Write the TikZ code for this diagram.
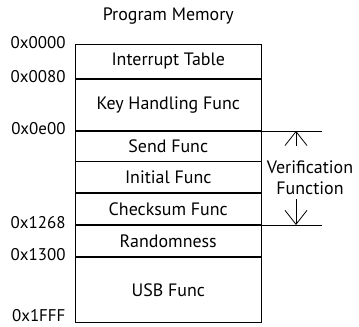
\documentclass[tikz,border=0pt]{standalone}
\usepackage{fontspec}
\setmainfont{PT Sans}
\usetikzlibrary{positioning,arrows.meta}
\tikzset{%
    block/.style={draw,thick,minimum width=186.3bp,inner sep=0pt,font=\fontsize{18}{21}\selectfont},
    lbl/.style={inner sep=0pt,font=\fontsize{18}{21}\selectfont},
    addr/.style={inner sep=0pt,anchor=base east,font=\fontsize{17}{20}\selectfont},
    vtip/.style={-{Straight Barb[length=14bp,width=22bp]},thick}
}
\begin{document}
\begin{tikzpicture}[x=1bp,y=-1bp,node distance=0pt]
\useasboundingbox (0,0) rectangle (359,327);

\node[block,minimum height=33.4bp,anchor=north west] (int) at (74.7,44.3) {Interrupt Table};
\node[block,minimum height=51.6bp,below=of int] (key) {Key Handling Func};
\node[block,minimum height=29.7bp,below=of key] (send) {Send Func};
\node[block,minimum height=31bp,below=of send] (init) {Initial Func};
\node[block,minimum height=31bp,below=of init] (check) {Checksum Func};
\node[block,minimum height=31bp,below=of check] (rand) {Randomness};
\node[block,minimum height=65.3bp,below=of rand] (usb) {USB Func};

\node[lbl,above=20bp of int] (title) {Program Memory};

\node[addr] (a0) at ([xshift=-9bp,yshift=-4bp]int.north west) {0x0000};
\node[addr] (a1) at ([xshift=-9bp,yshift=-4bp]key.north west) {0x0080};
\node[addr] (a2) at ([xshift=-9bp,yshift=-4bp]send.north west) {0x0e00};
\node[addr] (a3) at ([xshift=-9bp,yshift=-4bp]rand.north west) {0x1268};
\node[addr] (a4) at ([xshift=-9bp,yshift=-4bp]usb.north west) {0x1300};
\node[addr] (a5) at ([xshift=-9bp,yshift=1.5bp]usb.south west) {0x1FFF};

\draw[thick] (send.north east) -- ++(60,0) coordinate (vt);
\draw[thick] (rand.north east) -- ++(60,0) coordinate (vb);

\node[lbl,align=center] (ver) at (310,177.5) {Verification\\Function};
\draw[vtip] (296,145.7) coordinate (vu) -- (vu |- vt);
\draw[vtip] (296,199) coordinate (vd) -- (vd |- vb);
\end{tikzpicture}
\end{document}
